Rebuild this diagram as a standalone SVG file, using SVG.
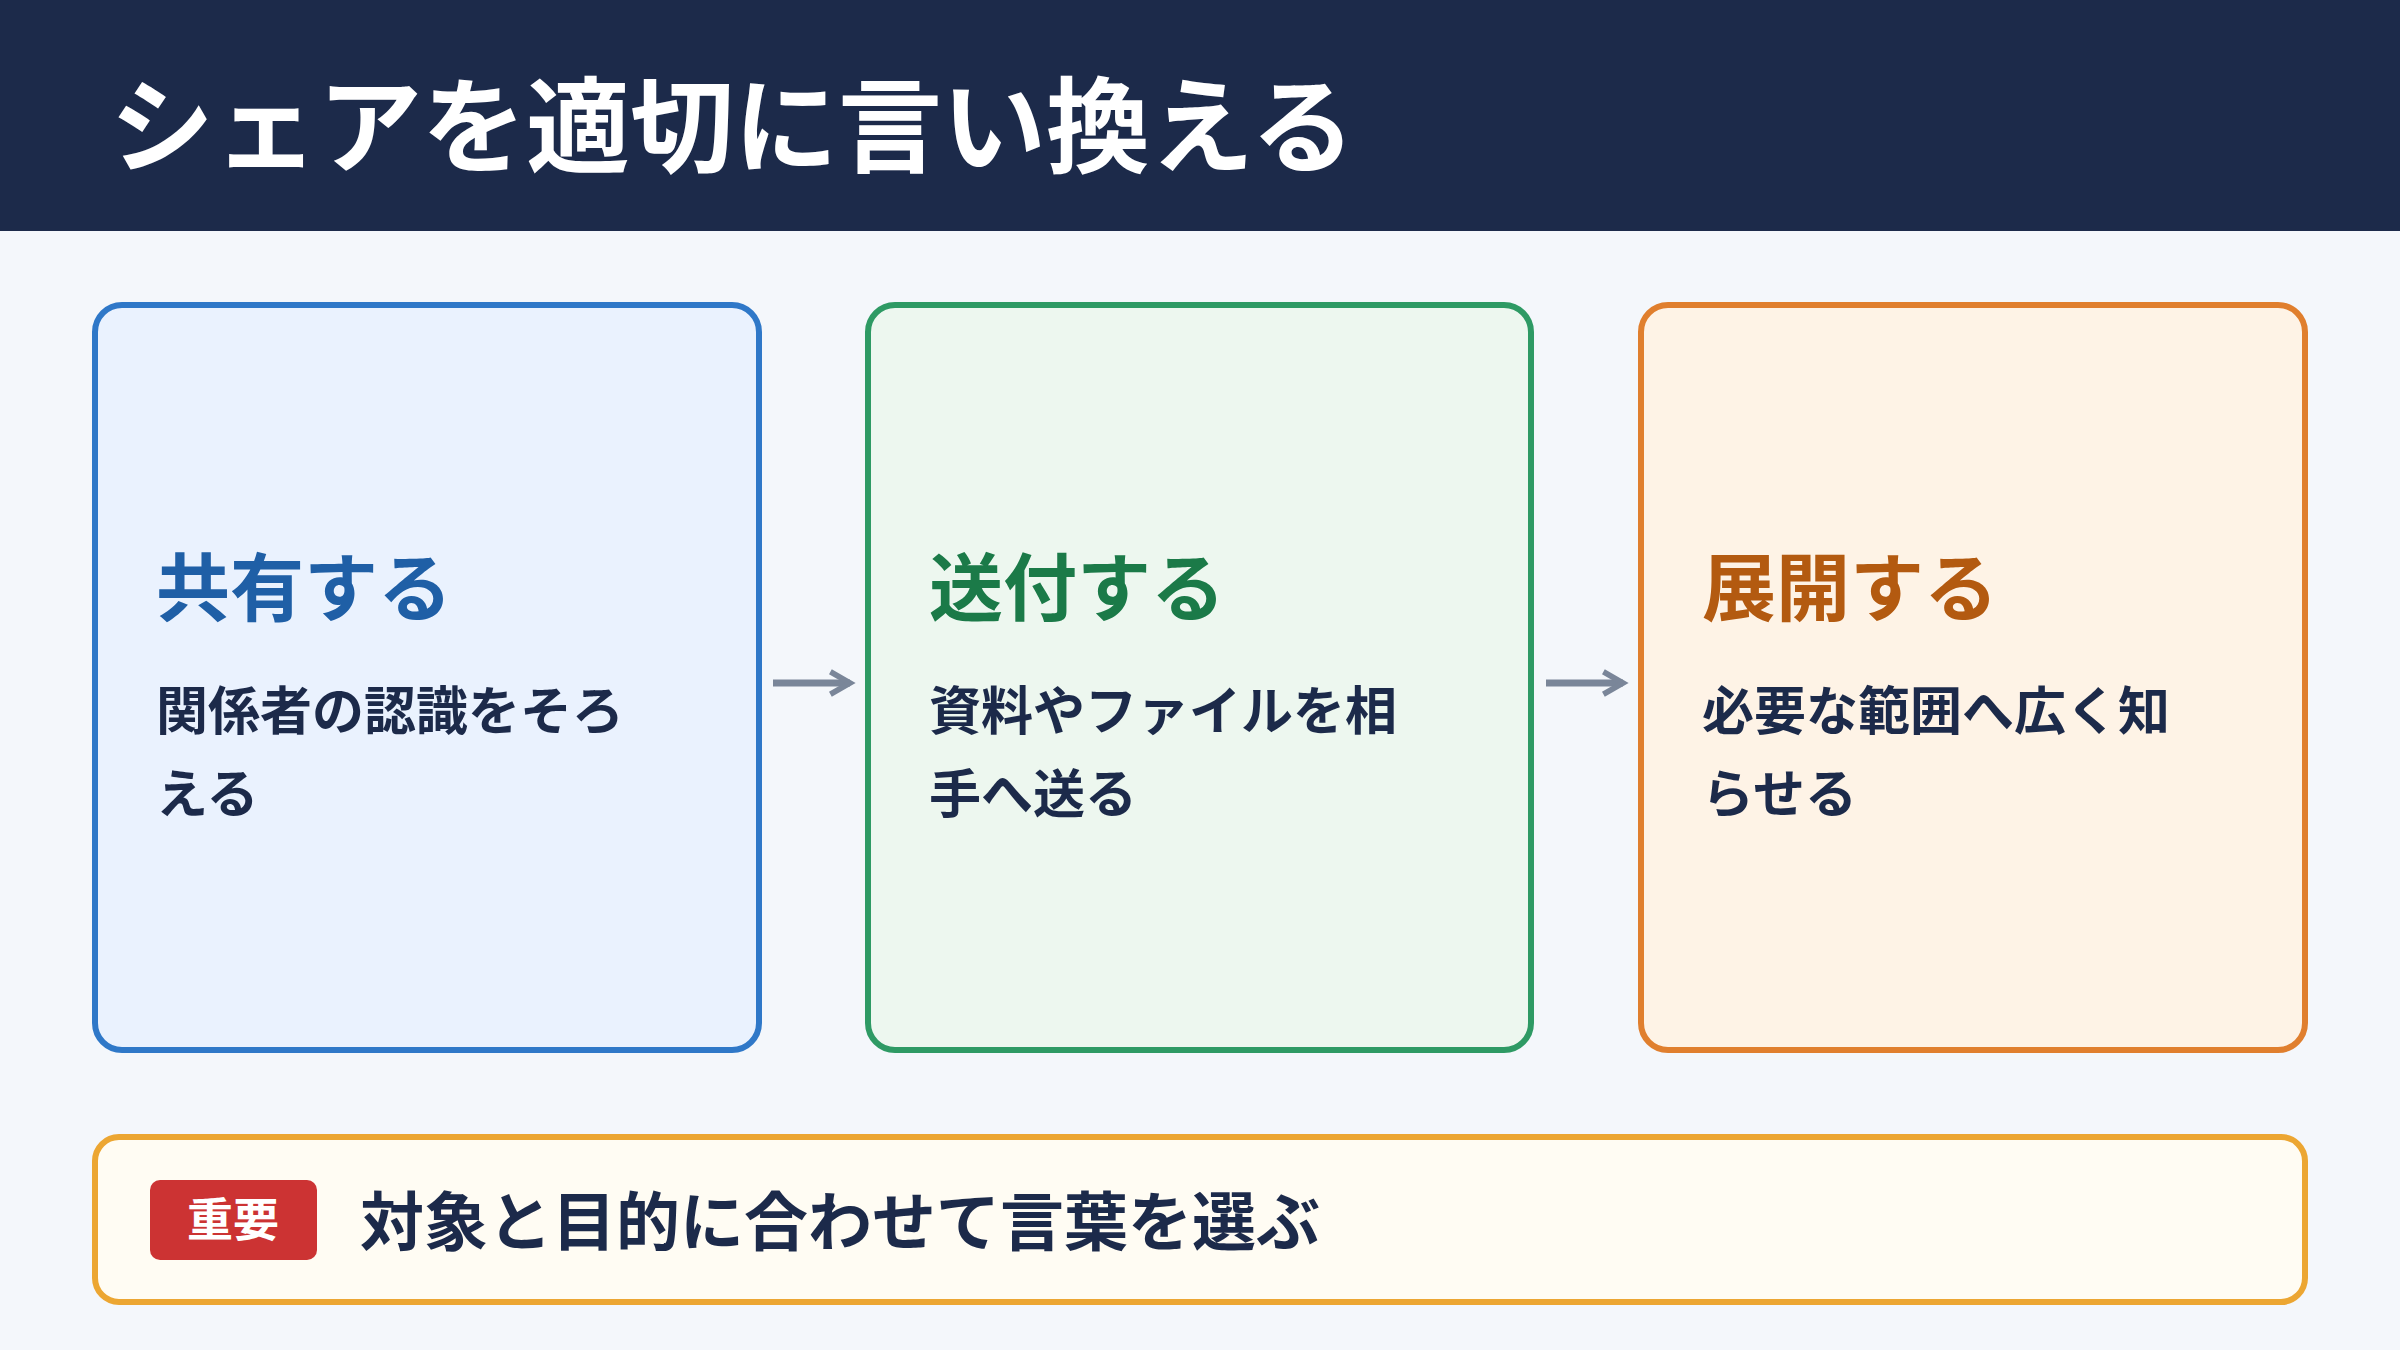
<svg xmlns="http://www.w3.org/2000/svg" width="2400" height="1350" viewBox="0 0 2400 1350">
<style>
text{font-family:"Noto Sans CJK JP","Noto Sans",sans-serif;font-weight:700}
.h{font-size:74px}
.b{font-size:52px;fill:#1c2a4a}
.box{stroke-width:6}
</style>
<defs><marker id="ah" viewBox="0 0 10 10" refX="8" refY="5" markerWidth="4" markerHeight="4" orient="auto"><path d="M1,1 L8,5 L1,9" fill="none" stroke="#7a8699" stroke-width="2"/></marker></defs>
<rect width="2400" height="1350" fill="#f4f7fb"/>
<rect width="2400" height="231" fill="#1c2a4a"/>
<text x="110" y="165" font-size="104" fill="#fff">シェアを適切に言い換える</text>
<g id="n1"><rect class="box" x="95" y="305" width="664" height="745" rx="27" fill="#eaf2fe" stroke="#2f78c8"/>
<text class="h" x="156" y="615" fill="#1f5fa6">共有する</text>
<text class="b" x="156" y="730">関係者の認識をそろ</text><text class="b" x="156" y="813">える</text></g>
<g id="n2"><rect class="box" x="868" y="305" width="663" height="745" rx="27" fill="#edf7ef" stroke="#2e9a64"/>
<text class="h" x="929" y="615" fill="#1b7a48">送付する</text>
<text class="b" x="929" y="730">資料やファイルを相</text><text class="b" x="929" y="813">手へ送る</text></g>
<g id="n3"><rect class="box" x="1641" y="305" width="664" height="745" rx="27" fill="#fef3e6" stroke="#e07f2e"/>
<text class="h" x="1702" y="615" fill="#b35a10">展開する</text>
<text class="b" x="1702" y="730">必要な範囲へ広く知</text><text class="b" x="1702" y="813">らせる</text></g>
<g id="connectors" stroke="#7a8699" stroke-width="7" fill="none" marker-end="url(#ah)">
<line x1="773" y1="683" x2="850" y2="683"/><line x1="1546" y1="683" x2="1623" y2="683"/></g>
<g id="note"><rect x="95" y="1137" width="2210" height="165" rx="24" fill="#fffcf3" stroke="#eca632" stroke-width="6"/>
<rect x="150" y="1180" width="167" height="80" rx="10" fill="#cc3333"/>
<text x="233" y="1236" font-size="46" fill="#fff" text-anchor="middle">重要</text>
<text x="360" y="1245" font-size="64" fill="#1c2a4a">対象と目的に合わせて言葉を選ぶ</text></g>
</svg>
